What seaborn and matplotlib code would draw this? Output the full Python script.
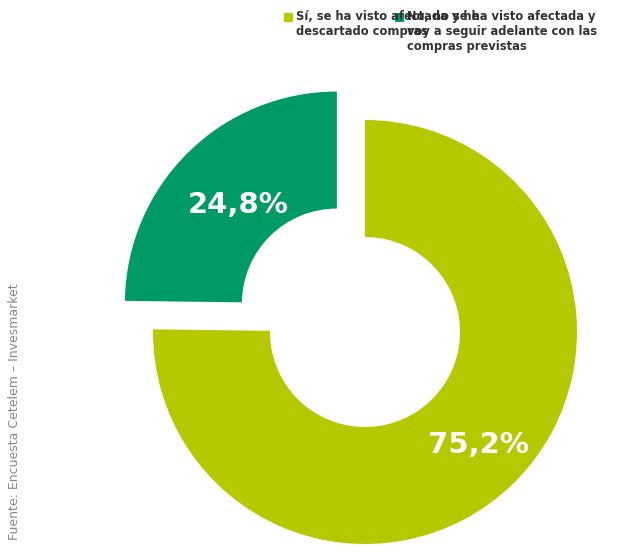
import matplotlib
matplotlib.use("Agg")
import matplotlib.pyplot as plt
import seaborn as sns

sns.set_theme(style="white")
plt.rcParams['font.family'] = ['DejaVu Sans']

categories = ["Sí, se ha visto afectada y he\ndescartado compras",
              "No, no se ha visto afectada y\nvoy a seguir adelante con las\ncompras previstas"]
values = [75.2, 24.8]
labels = ["75,2%", "24,8%"]
colors = ["#b5c800", "#009a66"]

fig = plt.figure(figsize=(6.4, 5.54), dpi=100)
ax = fig.add_axes([0, 0, 1, 1])

cx, cy, R = 365, 222, 212
wedges, _ = ax.pie(values, colors=colors, startangle=90, counterclock=False,
                   radius=R, center=(cx, cy), explode=[0, 40],
                   wedgeprops=dict(width=R - 95, linewidth=0), frame=True)
ax.set_xlim(0, 640); ax.set_ylim(0, 554); ax.set_aspect("equal"); ax.axis("off")

ax.text(478, 554 - 445, labels[0], color="white", fontsize=21, fontweight="bold", ha="center", va="center")
ax.text(238, 554 - 205, labels[1], color="white", fontsize=21, fontweight="bold", ha="center", va="center")

for x, c, t in [(284, colors[0], categories[0]), (395, colors[1], categories[1])]:
    ax.add_patch(plt.Rectangle((x, 554 - 22), 9, 9, color=c, lw=0))
    ax.text(x + 12, 554 - 10, t, fontsize=8.3, color="#333333", ha="left", va="top",
            fontweight="bold", linespacing=1.2)

ax.text(15, 142, "Fuente: Encuesta Cetelem – Invesmarket", rotation=90, fontsize=9,
        color="#888888", ha="center", va="center")

fig.savefig("out.png", dpi=100)
